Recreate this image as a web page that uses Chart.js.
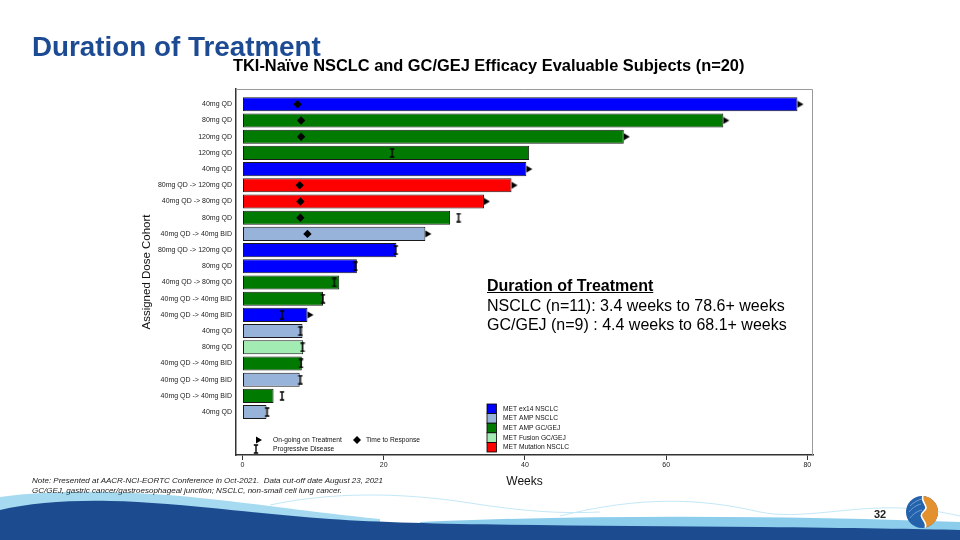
<!DOCTYPE html>
<html>
<head>
<meta charset="utf-8">
<title>Duration of Treatment</title>
<script src="https://cdn.jsdelivr.net/npm/chart.js@4.4.1/dist/chart.umd.min.js"></script>
<style>
	body { margin: 0; background: #fff; }
	.slide { position: relative; width: 960px; height: 540px; overflow: hidden; font-family: Arial, "Liberation Sans", sans-serif; background: #fff; }
	.slide svg, .slide canvas { position: absolute; left: 0; top: 0; }
	.txt { position: absolute; white-space: nowrap; line-height: 1; }
	.title { left: 32px; top: 33px; font-size: 27.8px; font-weight: bold; color: #1d4b93; }
	.subtitle { left: 233px; top: 57px; font-size: 16.4px; font-weight: bold; color: #000; }
	.summary { left: 487px; top: 276px; font-size: 16px; line-height: 19.5px; color: #000; }
	.summary b { text-decoration: underline; }
	.note { left: 32px; top: 476px; font-size: 8px; line-height: 9.8px; font-style: italic; color: #222; }
	.page { left: 874px; top: 509px; font-size: 11px; font-weight: bold; color: #222; }
</style>
</head>
<body>
<div class="slide">
	<svg width="960" height="540">
		<path d="M0,497 C60,489 130,491 200,498 C260,504 310,512 380,519 L380,540 L0,540 Z" fill="#a6daf1"/>
		<path d="M270,505 C330,492 400,492 470,503 C520,511 560,514 600,512" fill="none" stroke="#c4e8f7" stroke-width="1"/>
		<path d="M560,516 C640,496 700,498 760,512 C800,520 850,506 900,508 C930,509 950,514 960,516" fill="none" stroke="#c4e8f7" stroke-width="1"/>
		<path d="M420,522 C600,514 800,516 960,522 L960,540 L420,540 Z" fill="#8ccdec"/>
		<path d="M0,510 C30,503 70,500 110,501 C170,502 240,512 330,519 C430,526 600,525 760,527 C850,528 920,529 960,530 L960,540 L0,540 Z" fill="#1d4b8f"/>
		<g transform="translate(922,512)">
			<circle r="16" fill="#2462ab"/>
			<path d="M1,-16 A16,16 0 0 1 3,15.7 C7,9 -6,6 2,-1 C8,-6 -2,-10 1,-16 Z" fill="#e3902e"/>
			<path d="M1,-16 C-2,-10 8,-6 2,-1 C-6,6 7,9 3,15.7" fill="none" stroke="#fff" stroke-width="1.6"/>
			<path d="M-12,-6 C-8,-10 -4,-12 0,-13 M-13,0 C-9,-5 -5,-7 -1,-8 M-12,6 C-8,1 -4,-1 0,-2" fill="none" stroke="#6f9fd6" stroke-width="1"/>
		</g>
	</svg>
	<canvas id="chart" width="960" height="540"></canvas>
	<div class="txt title">Duration of Treatment</div>
	<div class="txt subtitle">TKI-Naïve NSCLC and GC/GEJ Efficacy Evaluable Subjects (n=20)</div>
	<div class="txt summary"><b>Duration of Treatment</b><br>NSCLC (n=11): 3.4 weeks to 78.6+ weeks<br>GC/GEJ (n=9) : 4.4 weeks to 68.1+ weeks</div>
	<div class="txt note">Note: Presented at AACR-NCI-EORTC Conference in Oct-2021.&nbsp; Data cut-off date August 23, 2021<br>GC/GEJ, gastric cancer/gastroesophageal junction; NSCLC, non-small cell lung cancer.</div>
	<div class="txt page">32</div>
</div>
<script>
// :: 1.0 Data
var cohorts = ['40mg QD', '80mg QD', '120mg QD', '120mg QD', '40mg QD', '80mg QD -> 120mg QD', '40mg QD -> 80mg QD',
	'80mg QD', '40mg QD -> 40mg BID', '80mg QD -> 120mg QD', '80mg QD', '40mg QD -> 80mg QD', '40mg QD -> 40mg BID',
	'40mg QD -> 40mg BID', '40mg QD', '80mg QD', '40mg QD -> 40mg BID', '40mg QD -> 40mg BID', '40mg QD -> 40mg BID', '40mg QD'];
var weeks = [78.6, 68.1, 54.0, 40.6, 40.2, 38.1, 34.2, 29.4, 25.9, 21.8, 16.2, 13.7, 11.4, 9.2, 8.5, 8.6, 8.4, 8.1, 4.4, 3.4];
var groups = ['MET ex14 NSCLC', 'MET AMP NSCLC', 'MET AMP GC/GEJ', 'MET Fusion GC/GEJ', 'MET Mutation NSCLC'];
var groupColors = ['#0000ff', '#98b3da', '#007a00', '#a2ecb4', '#ff0000'];
var subjectGroup = [0, 2, 2, 2, 0, 4, 4, 2, 1, 0, 0, 2, 2, 0, 1, 3, 2, 1, 2, 1];
// on-going marks sit at the bar end, response and progression at their own week
var onGoing = [78.6, 68.1, 54.0, null, 40.2, 38.1, 34.2, null, 25.9, null, null, null, null, 9.2, null, null, null, null, null, null];
var response = [7.8, 8.3, 8.3, null, null, 8.1, 8.2, 8.2, 9.2, null, null, null, null, null, null, null, null, null, null, null];
var progression = [null, null, null, 21.2, null, null, null, 30.6, null, 21.7, 16.0, 13.0, 11.4, 5.6, 8.2, 8.5, 8.3, 8.2, 5.6, 3.5];
var xTicks = [0, 20, 40, 60, 80];

(function () {
	'use strict';

	var FONT = 'Arial, "Liberation Sans", sans-serif';

	// :: 2.0 Marker shapes
	function makeTriangle() {
		var c = document.createElement('canvas');
		c.width = 14; c.height = 8;
		var g = c.getContext('2d');
		g.fillStyle = '#000';
		g.beginPath();
		g.moveTo(7, 0.5); g.lineTo(13, 4); g.lineTo(7, 7.5);
		g.closePath();
		g.fill();
		return c;
	}

	function makeIbeam() {
		var c = document.createElement('canvas');
		c.width = 6; c.height = 10;
		var g = c.getContext('2d');
		g.strokeStyle = '#000';
		g.lineWidth = 1.4;
		g.beginPath();
		g.moveTo(3, 1); g.lineTo(3, 9);
		g.moveTo(0.8, 1); g.lineTo(5.2, 1);
		g.moveTo(0.8, 9); g.lineTo(5.2, 9);
		g.stroke();
		return c;
	}

	var triangle = makeTriangle();
	var ibeam = makeIbeam();

	function points(list) {
		var out = [];
		list.forEach(function (v, i) {
			if (v !== null) out.push({ x: v, y: i });
		});
		return out;
	}

	// :: 3.0 Legends + frame
	var decorPlugin = {
		id: 'decor',
		afterDraw: function (chart) {
			var ctx = chart.ctx;
			var a = chart.chartArea;
			ctx.save();
			ctx.strokeStyle = '#9a9a9a';
			ctx.lineWidth = 1;
			ctx.beginPath();
			ctx.moveTo(a.left, a.top + 0.5); ctx.lineTo(a.right - 0.5, a.top + 0.5); ctx.lineTo(a.right - 0.5, a.bottom);
			ctx.stroke();

			// marker legend
			ctx.font = '6.7px ' + FONT;
			ctx.fillStyle = '#111';
			ctx.textBaseline = 'middle';
			ctx.drawImage(triangle, 249, 436);
			ctx.fillText('On-going on Treatment', 273, 440);
			ctx.fillStyle = '#000';
			ctx.beginPath();
			ctx.moveTo(357, 436); ctx.lineTo(361, 440); ctx.lineTo(357, 444); ctx.lineTo(353, 440);
			ctx.closePath();
			ctx.fill();
			ctx.fillStyle = '#111';
			ctx.fillText('Time to Response', 366, 440);
			ctx.drawImage(ibeam, 253, 444);
			ctx.fillText('Progressive Disease', 273, 449);

			// colour legend
			groups.forEach(function (name, i) {
				var y = 404 + i * 9.6;
				ctx.fillStyle = groupColors[i];
				ctx.fillRect(487, y, 9.5, 9.6);
				ctx.strokeStyle = '#000';
				ctx.lineWidth = 0.8;
				ctx.strokeRect(487, y, 9.5, 9.6);
				ctx.fillStyle = '#111';
				ctx.fillText(name, 503, y + 5);
			});
			ctx.restore();
		}
	};

	// :: 4.0 Chart
	new Chart(document.getElementById('chart'), {
		type: 'bar',
		data: {
			datasets: [{
				label: 'Duration',
				indexAxis: 'y',
				data: weeks.map(function (v, i) { return { x: v, y: i }; }),
				backgroundColor: subjectGroup.map(function (g) { return groupColors[g]; }),
				borderColor: '#1a1a1a',
				borderWidth: 1,
				borderSkipped: false,
				categoryPercentage: 1,
				barPercentage: 0.87,
				order: 2
			}, {
				type: 'scatter',
				label: 'On-going on Treatment',
				data: points(onGoing),
				pointStyle: triangle,
				order: 1
			}, {
				type: 'scatter',
				label: 'Time to Response',
				data: points(response),
				pointStyle: 'rectRot',
				radius: 4.2,
				backgroundColor: '#000',
				borderColor: '#000',
				borderWidth: 0,
				order: 1
			}, {
				type: 'scatter',
				label: 'Progressive Disease',
				data: points(progression),
				pointStyle: ibeam,
				order: 1
			}]
		},
		options: {
			responsive: false,
			animation: false,
			layout: { padding: { left: 136, top: 89, right: 147, bottom: 47 } },
			plugins: {
				legend: { display: false },
				tooltip: { enabled: false }
			},
			scales: {
				x: {
					type: 'linear',
					offset: false,
					min: -0.92,
					max: 80.8,
					afterBuildTicks: function (scale) {
						scale.ticks = xTicks.map(function (v) { return { value: v }; });
					},
					afterFit: function (scale) { scale.height = 38; },
					grid: { offset: false, drawOnChartArea: false, drawTicks: true, tickLength: 5, color: '#333' },
					border: { display: true, color: '#333', width: 1.5 },
					ticks: { font: { size: 7, family: FONT }, color: '#222', padding: 1, maxRotation: 0 },
					title: { display: true, text: 'Weeks', font: { size: 12, family: FONT }, color: '#111' }
				},
				y: {
					type: 'linear',
					offset: false,
					reverse: true,
					min: -0.944,
					max: 21.65,
					afterBuildTicks: function (scale) {
						scale.ticks = cohorts.map(function (_, i) { return { value: i }; });
					},
					afterFit: function (scale) { scale.width = 100; },
					grid: { offset: false, display: false, drawTicks: false },
					border: { display: true, color: '#333', width: 1.5 },
					ticks: {
						autoSkip: false,
						padding: 4,
						font: { size: 7, family: FONT },
						color: '#222',
						callback: function (v) { return cohorts[v]; }
					},
					title: { display: true, text: 'Assigned Dose Cohort', font: { size: 11.5, family: FONT }, color: '#111' }
				}
			}
		},
		plugins: [decorPlugin]
	});
}());
</script>
</body>
</html>
